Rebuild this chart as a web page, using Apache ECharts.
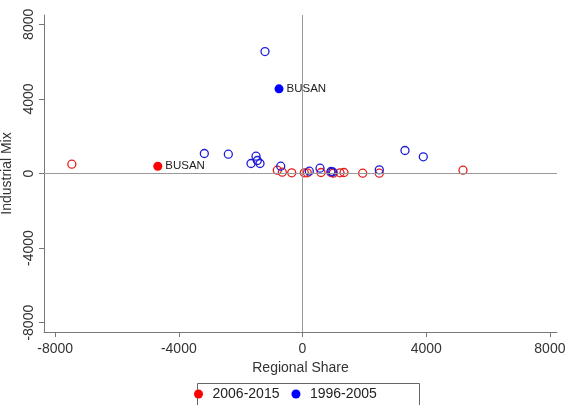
<!DOCTYPE html>
<html>
<head>
<meta charset="utf-8">
<script src="https://cdn.jsdelivr.net/npm/echarts@6/dist/echarts.min.js"></script>
<style>
  html, body { margin: 0; padding: 0; background: #fff; }
  #chart { width: 566px; height: 405px; }
</style>
</head>
<body>
<div id="chart"></div>
<script>
// Shift-share decomposition: regional share vs industrial mix, by period
const periods = ['2006-2015', '1996-2005'];
const tickValues = [-8000, -4000, 0, 4000, 8000];

// 2006-2015 regions (regional share, industrial mix)
const share2006 = [-7460, -815, -653, -349, 58, 155, 598, 920, 996, 1213, 1342, 1946, 2483, 5190];
const mix2006   = [  500,  177,   70,   36, 36,  36,  54,  60,  18,   36,   54,   18,   18,  177];
// 1996-2005 regions
const share1996 = [-1213, -3175, -2399, -1504, -1461, -1665, -1374, -705, 220, 566, 922, 977, 2483, 3314, 3906];
const mix1996   = [ 6540,  1072,  1035,   927,   697,   536,   536,  391, 123, 284, 107,  80,  198, 1233,  895];

// Busan, highlighted in each period
const busanLabel = 'BUSAN';
const busan2006 = [-4680, 390];
const busan1996 = [-760, 4540];

const RED = '#ff0000';
const BLUE = '#0000ff';
const RED_RING = '#e41c1c';
const BLUE_RING = '#1c1cd8';
const FONT = '"Liberation Sans", Arial, sans-serif';

function buildData(xs, ys, busan, color) {
  const pts = xs.map((x, i) => [x, ys[i]]);
  pts.push({
    value: busan,
    symbolSize: 9,
    itemStyle: { color: color, borderWidth: 0, opacity: 1 },
    label: {
      show: true, formatter: busanLabel, position: 'right', distance: 3,
      fontSize: 11.5, color: '#222', fontFamily: FONT
    }
  });
  return pts;
}

const chart = echarts.init(document.getElementById('chart'), null, { renderer: 'canvas' });

const plainNumber = v => String(v);

const axisCommon = {
  type: 'value',
  splitLine: { show: false },
  axisLine: { show: true, onZero: false, lineStyle: { color: '#777', width: 1 } },
  axisTick: { show: true, length: 5, customValues: tickValues, lineStyle: { color: '#777' } },
  nameLocation: 'middle',
  nameTextStyle: { fontSize: 14, color: '#333', fontFamily: FONT }
};

chart.setOption({
  backgroundColor: '#fff',
  animation: false,
  textStyle: { fontFamily: FONT },
  grid: { left: 44, right: 9, top: 15, bottom: 73, containLabel: false, outerBoundsMode: 'none' },
  xAxis: Object.assign({}, axisCommon, {
    min: -8360, max: 8230,
    name: 'Regional Share', nameGap: 26,
    axisLabel: { customValues: tickValues, formatter: plainNumber, fontSize: 14, color: '#333', margin: 10, fontFamily: FONT }
  }),
  yAxis: Object.assign({}, axisCommon, {
    min: -8500, max: 8500,
    name: 'Industrial Mix', nameGap: 23,
    axisLabel: { customValues: tickValues, formatter: plainNumber, rotate: 90, fontSize: 14, color: '#333', margin: 8, fontFamily: FONT }
  }),
  legend: {
    left: 194, top: 387, padding: 0, itemGap: 12,
    itemWidth: 18, itemHeight: 9, icon: 'circle',
    textStyle: { fontSize: 14, color: '#222', fontFamily: FONT },
    data: [
      { name: periods[0], itemStyle: { color: RED, borderWidth: 0, opacity: 1 } },
      { name: periods[1], itemStyle: { color: BLUE, borderWidth: 0, opacity: 1 } }
    ]
  },
  graphic: [{
    type: 'rect', left: 195, top: 381,
    shape: { width: 222, height: 40 },
    style: { fill: 'none', stroke: '#666', lineWidth: 1 }
  }],
  series: [
    {
      name: periods[0], type: 'scatter', symbol: 'circle', symbolSize: 8,
      itemStyle: { color: 'rgba(0,0,0,0)', borderColor: RED_RING, borderWidth: 1.3, opacity: 1 },
      data: buildData(share2006, mix2006, busan2006, RED),
      markLine: {
        silent: true, symbol: 'none', label: { show: false },
        lineStyle: { color: '#999', width: 1, type: 'solid' },
        data: [{ xAxis: 0 }, { yAxis: 0 }]
      },
      z: 3
    },
    {
      name: periods[1], type: 'scatter', symbol: 'circle', symbolSize: 8,
      itemStyle: { color: 'rgba(0,0,0,0)', borderColor: BLUE_RING, borderWidth: 1.3, opacity: 1 },
      data: buildData(share1996, mix1996, busan1996, BLUE),
      z: 4
    }
  ]
});
</script>
</body>
</html>
